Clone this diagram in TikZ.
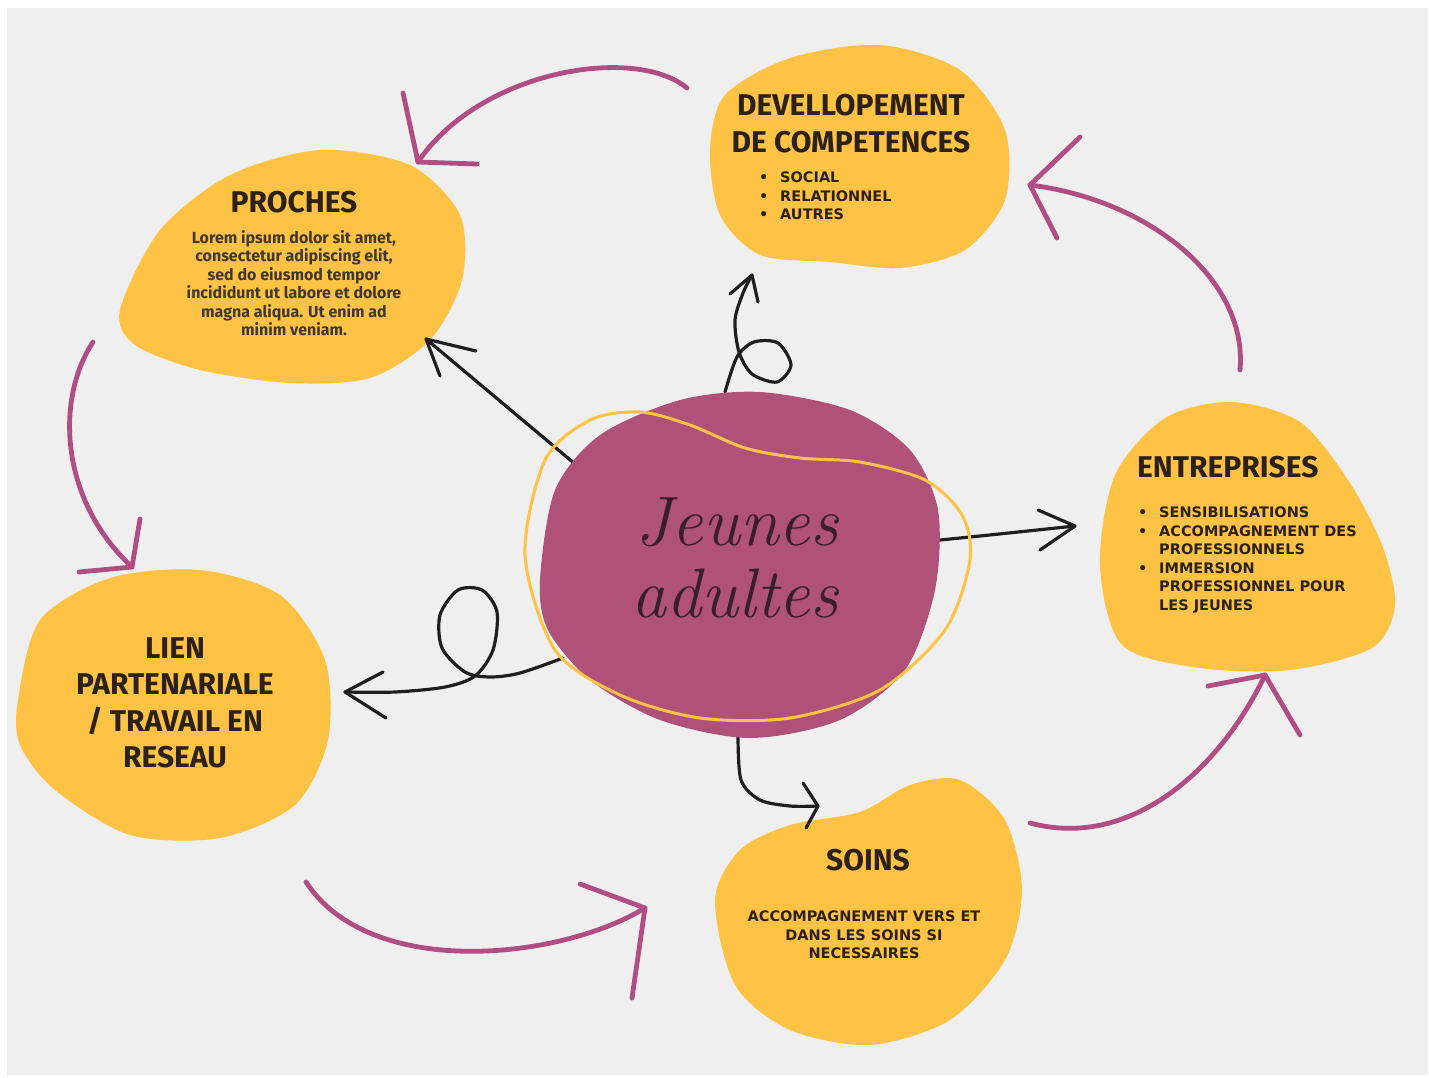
\documentclass[tikz,border=0pt]{standalone}
\usepackage{fontspec}
\setmainfont{Fira Sans}
\newfontfamily\wide{DejaVu Sans}
\newfontfamily\lmr{Latin Modern Roman}
\definecolor{bg}{HTML}{EFEFEF}
\definecolor{blob}{HTML}{FEC245}
\definecolor{core}{HTML}{B0517A}
\definecolor{pk}{HTML}{B04D82}
\definecolor{ink}{HTML}{2B2116}
\definecolor{scriptc}{HTML}{3A1E2E}
\begin{document}
\begin{tikzpicture}[x=1pt,y=-1pt,
  pinkarrow/.style={draw=pk, line width=4.8pt, line cap=round, line join=round},
  blackarrow/.style={draw=black!88, line width=3.2pt, line cap=round, line join=round},
  title/.style={font=\bfseries\fontsize{30}{36.5}\selectfont, text=ink, align=center, inner sep=0pt},
  body/.style={font=\wide\bfseries\fontsize{14.5}{18.5}\selectfont, text=ink, inner sep=0pt},
  lorem/.style={font=\bfseries\fontsize{16}{18.5}\selectfont, text=ink!90, align=center, inner sep=0pt},
  blobfill/.style={fill=blob},
]
\newcommand{\bul}{\makebox[21pt][l]{•}}
% background
\useasboundingbox (0,0) rectangle (1429,1077);
\fill[white] (0,0) rectangle (1429,1077);
\fill[bg] (7,8) rectangle (1428,1075);

% blobs
\fill[blobfill] plot[smooth cycle] coordinates {(710,150) (725,95) (790,58) (880,45) (960,70) (1005,130) (1005,200) (965,250) (900,268) (830,262) (760,255) (720,215)};
\fill[blobfill] plot[smooth cycle] coordinates {(120,310) (160,230) (230,175) (320,150) (410,165) (460,215) (462,280) (430,340) (370,378) (290,383) (200,370) (135,345)};
\fill[blobfill] plot[smooth cycle] coordinates {(18,700) (40,620) (110,578) (200,570) (280,595) (325,660) (328,740) (295,805) (220,838) (130,835) (55,790) (20,745)};
\fill[blobfill] plot[smooth cycle] coordinates {(1100,565) (1115,475) (1165,418) (1232,402) (1300,422) (1348,480) (1382,545) (1395,605) (1372,648) (1290,670) (1200,668) (1122,645)};
\fill[blobfill] plot[smooth cycle] coordinates {(715,900) (740,850) (790,825) (860,812) (910,785) (960,780) (1005,820) (1022,890) (1005,960) (950,1020) (870,1045) (790,1030) (735,985)};

% black connectors (drawn under the centre)
\coordinate (c1s) at (587,474); \coordinate (c1t) at (426,339);
\draw[blackarrow] (c1s) -- (c1t);
\draw[blackarrow] (c1t) -- +(14,37) (c1t) -- +(50,12);

\coordinate (c2s) at (725,392); \coordinate (c2t) at (752,275);
\draw[blackarrow] plot[smooth] coordinates {(c2s) (737,357) (754,342) (778,343) (791,365) (777,382) (752,374) (739,352) (735,320) (743,293) (c2t)};
\draw[blackarrow] (c2t) -- +(-22,19) (c2t) -- +(6,27);

\coordinate (c3s) at (930,541); \coordinate (c3t) at (1075,526);
\draw[blackarrow] (c3s) .. controls (990,535) .. (c3t);
\draw[blackarrow] (c3t) -- +(-37,-16) (c3t) -- +(-35,24);

\coordinate (c4s) at (738,735); \coordinate (c4t) at (818,806);
\draw[blackarrow] plot[smooth] coordinates {(c4s) (741,780) (760,800) (790,806) (c4t)};
\draw[blackarrow] (c4t) -- +(-15,-23) (c4t) -- +(-12,22);

\coordinate (c5s) at (563,658); \coordinate (c5t) at (345,692);
\draw[blackarrow] plot[smooth] coordinates {(c5s) (520,673) (490,677) (465,672) (442,648) (440,615) (458,590) (482,590) (497,612) (493,650) (475,676) (445,687) (395,692) (c5t)};
\draw[blackarrow] (c5t) -- +(38,-20) (c5t) -- +(41,26);

% centre
\fill[core] plot[smooth cycle] coordinates {(540,580) (555,490) (600,435) (680,400) (760,392) (850,410) (910,450) (938,510) (935,590) (905,670) (840,720) (750,738) (660,720) (590,680) (548,630)};
\draw[blob, line width=3pt] plot[smooth cycle] coordinates {(525,555) (545,460) (590,420) (640,412) (690,425) (745,448) (800,458) (860,462) (925,480) (962,515) (970,560) (945,630) (880,690) (790,718) (700,718) (620,695) (555,650)};
\node[font=\lmr\itshape\fontsize{70}{70}\selectfont, text=scriptc, inner sep=0pt] (ja1) at (737,522) {Jeunes};
\node[font=\lmr\itshape\fontsize{70}{70}\selectfont, text=scriptc, inner sep=0pt] (ja2) at (735,594) {adultes};

% pink connectors
\coordinate (pAs) at (687,88); \coordinate (pAt) at (418,162);
\draw[pinkarrow] (pAs) .. controls (635,45) and (480,70) .. (pAt);
\draw[pinkarrow] (pAt) -- +(-15,-69) (pAt) -- +(59,2);

\coordinate (pBs) at (93,342); \coordinate (pBt) at (132,567);
\draw[pinkarrow] (pBs) .. controls (55,400) and (60,500) .. (pBt);
\draw[pinkarrow] (pBt) -- +(8,-48) (pBt) -- +(-53,5);

\coordinate (pCs) at (306,882); \coordinate (pCt) at (645,908);
\draw[pinkarrow] (pCs) .. controls (370,980) and (560,960) .. (pCt);
\draw[pinkarrow] (pCt) -- +(-65,-24) (pCt) -- +(-13,90);

\coordinate (pDs) at (1030,823); \coordinate (pDt) at (1265,675);
\draw[pinkarrow] (pDs) .. controls (1130,850) and (1220,770) .. (pDt);
\draw[pinkarrow] (pDt) -- +(-57,11) (pDt) -- +(35,60);

\coordinate (pEs) at (1240,370); \coordinate (pEt) at (1030,185);
\draw[pinkarrow] (pEs) .. controls (1248,280) and (1150,200) .. (pEt);
\draw[pinkarrow] (pEt) -- +(50,-48) (pEt) -- +(27,53);

% texts
\node[title] (devt) at (851,123.5) {DEVELLOPEMENT\\DE COMPETENCES};
\node[body, anchor=west, align=left] (devb) at (759,196) {\bul SOCIAL\\\bul RELATIONNEL\\\bul AUTRES};

\node[title] (prot) at (294,202) {PROCHES};
\node[lorem] (prob) at (294,283) {Lorem ipsum dolor sit amet,\\consectetur adipiscing elit,\\sed do eiusmod tempor\\incididunt ut labore et dolore\\magna aliqua. Ut enim ad\\minim veniam.};

\node[title] (lient) at (175,703) {LIEN\\PARTENARIALE\\/ TRAVAIL EN\\RESEAU};

\node[title, anchor=west] (entt) at (1137,467) {ENTREPRISES};
\node[body, anchor=west, align=left] (entb) at (1138,560) {\bul SENSIBILISATIONS\\\bul ACCOMPAGNEMENT DES\\\phantom{\bul}PROFESSIONNELS\\\bul IMMERSION\\\phantom{\bul}PROFESSIONNEL POUR\\\phantom{\bul}LES JEUNES};

\node[title] (soit) at (868,860) {SOINS};
\node[body, align=center] (soib) at (864,935) {ACCOMPAGNEMENT VERS ET\\DANS LES SOINS SI\\NECESSAIRES};
\end{tikzpicture}
\end{document}
